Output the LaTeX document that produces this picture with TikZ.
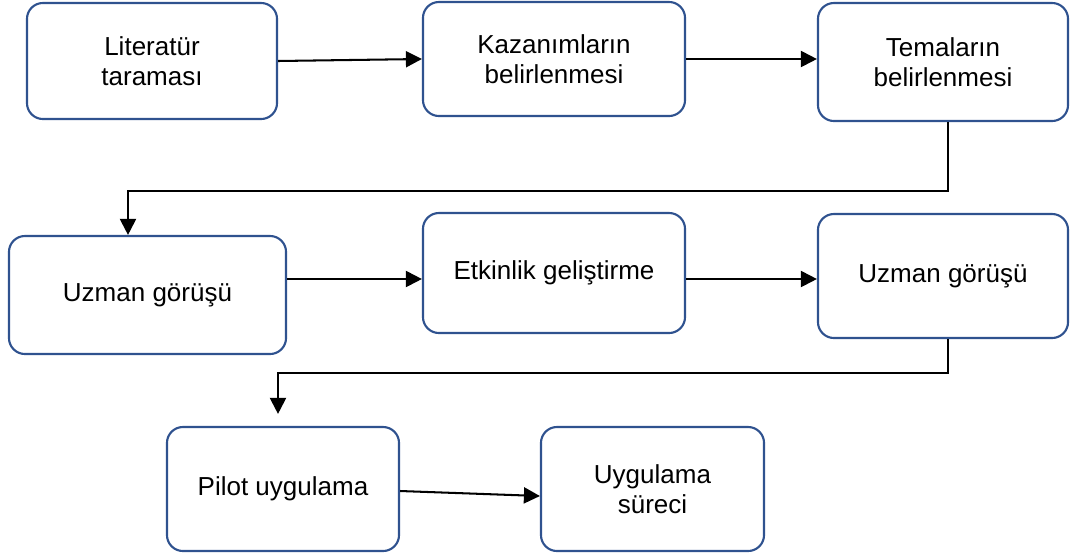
\documentclass[tikz,border=0pt]{standalone}
\usepackage{fontspec}
\setmainfont{Liberation Sans}
\usetikzlibrary{arrows.meta,positioning,calc}
\definecolor{kutu}{RGB}{47,82,143}
\tikzset{
  adim/.style={draw=kutu, line width=1.5pt, rounded corners=0.4cm, align=center, inner sep=0pt, font=\fontsize{18.5}{21.3}\selectfont},
  ok/.style={line width=1.45pt, -{Triangle[length=0.4cm,width=0.4cm]}}
}
\begin{document}
\begin{tikzpicture}[x=0.025cm, y=-0.025cm]
  \useasboundingbox (0,0) rectangle (1070,555);
  \node[adim, minimum width=6.25cm, minimum height=2.9cm] (lit) at (152,61) {Literatür\\taraması};
  \node[adim, minimum width=6.55cm, minimum height=2.85cm] (kaz) at (554,59) {Kazanımların\\belirlenmesi};
  \node[adim, minimum width=6.25cm, minimum height=2.95cm] (tem) at (943,62) {Temaların\\belirlenmesi};
  \node[adim, minimum width=6.925cm, minimum height=2.95cm] (uzm1) at (147.5,295) {Uzman görüşü};
  \node[adim, minimum width=6.55cm, minimum height=3cm] (etk) at (554,273) {Etkinlik geliştirme};
  \node[adim, minimum width=6.25cm, minimum height=3.1cm] (uzm2) at (943,276) {Uzman görüşü};
  \node[adim, minimum width=5.8cm, minimum height=3.1cm] (pil) at (283,489) {Pilot uygulama};
  \node[adim, minimum width=5.575cm, minimum height=3.1cm] (uyg) at (652.5,489) {Uygulama\\süreci};
  \coordinate (don1) at (128,191);
  \coordinate (don2) at (278,373);
  \draw[ok] (lit.east) -- (kaz.west);
  \draw[ok] (kaz.east) -- (kaz.east -| tem.west);
  \draw[ok] ([xshift=0.125cm]tem.south) |- (don1) -- (don1 |- uzm1.north);
  \draw[ok] (uzm1.east |- 0,279) -- (etk.west |- 0,279);
  \draw[ok] (etk.east |- 0,279) -- (uzm2.west |- 0,279);
  \draw[ok] ([xshift=0.125cm]uzm2.south) |- (don2) -- ([yshift=0.3cm]don2 |- pil.north);
  \draw[ok] ([yshift=-0.05cm]pil.east) -- ([yshift=-0.175cm]uyg.west);
\end{tikzpicture}
\end{document}
